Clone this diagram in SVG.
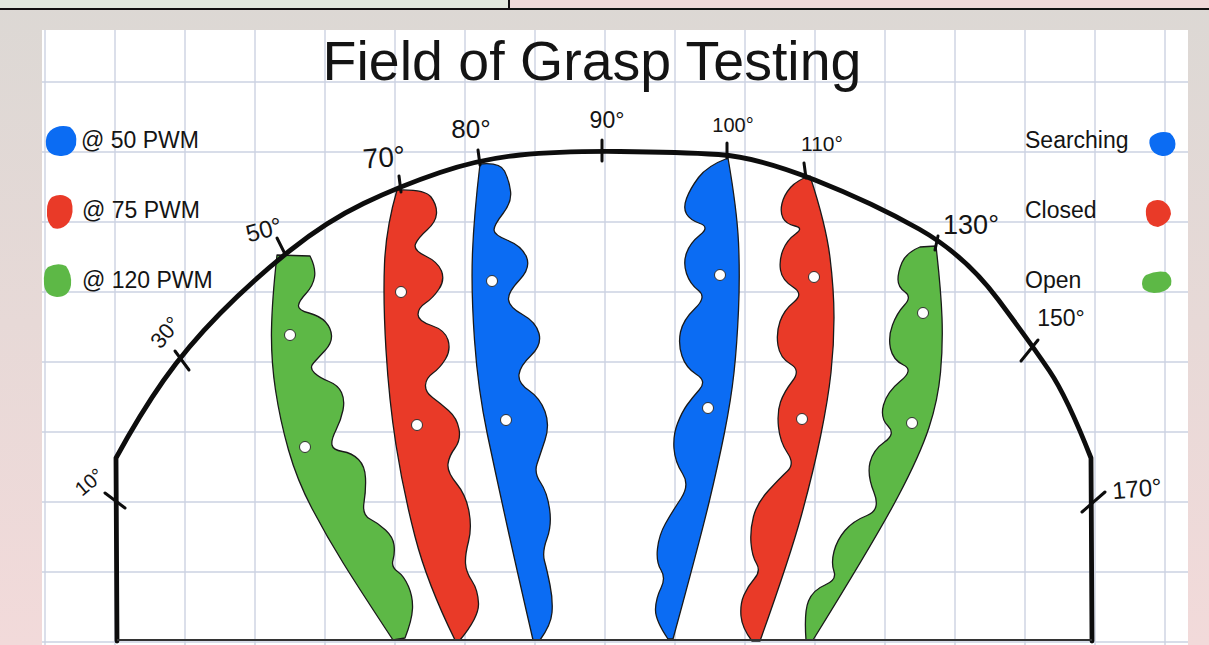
<svg xmlns="http://www.w3.org/2000/svg" width="1209" height="645" viewBox="0 0 1209 645">
<defs>
<linearGradient id="bg" x1="0" y1="0" x2="0" y2="1">
<stop offset="0" stop-color="#dcd8d4"/>
<stop offset="1" stop-color="#f2dada"/>
</linearGradient>
</defs>
<style>
.grid{stroke:#ccd2e2;stroke-width:1.4}
.band{stroke:#1a1a1a;stroke-width:1.3;stroke-linejoin:round}
.blue{fill:#0b6cf3}
.red{fill:#e93a28}
.green{fill:#5db846}
.dot{fill:#ffffff;stroke:#222;stroke-width:0.9}
.arc{fill:none;stroke:#0d0d0d;stroke-width:4.8;stroke-linecap:round;stroke-linejoin:round}
.tick{stroke:#0d0d0d;stroke-width:3;stroke-linecap:round}
.hand{font-family:"Liberation Sans",Arial,sans-serif;fill:#141414;text-anchor:middle}
.leg{font-family:"Liberation Sans",Arial,sans-serif;font-size:23px;fill:#141414}
.title{font-family:"Liberation Sans",Arial,sans-serif;font-size:55.5px;fill:#141414;text-anchor:middle}
</style>
<g id="background">
<rect x="0" y="0" width="1209" height="645" fill="url(#bg)"/>
<rect x="0" y="0" width="509" height="8" fill="#e1e9de"/>
<rect x="509" y="0" width="700" height="8" fill="#eed8d8"/>
<rect x="0" y="8" width="1209" height="2" fill="#111"/>
<rect x="508" y="0" width="2" height="9" fill="#111"/>
<rect x="42" y="30" width="1146" height="615" fill="#ffffff"/>
</g>
<g id="grid">
<path class="grid" d="M45,30V645M115,30V645M185,30V645M255,30V645M325,30V645M395,30V645M465,30V645M535,30V645M605,30V645M675,30V645M745,30V645M815,30V645M885,30V645M955,30V645M1025,30V645M1095,30V645M1165,30V645"/>
<path class="grid" d="M42,82H1188M42,152H1188M42,222H1188M42,292H1188M42,362H1188M42,432H1188M42,502H1188M42,572H1188M42,642H1188"/>
</g>
<g id="title">
<text class="title" x="592" y="80">Field of Grasp Testing</text>
</g>
<g id="legend-left">
<g id="leg-50pwm">
<path class="blue" d="M50,131 Q58,124 70,127 Q78,133 76,145 Q72,157 60,156 Q47,155 46,145 Q45,136 50,131 Z"/>
<text class="leg" x="81" y="148">@ 50 PWM</text>
</g>
<g id="leg-75pwm">
<path class="red" d="M52,197 Q63,192 71,200 Q75,212 69,222 Q62,231 53,228 Q46,222 47,210 Q47,201 52,197 Z"/>
<text class="leg" x="82" y="218">@ 75 PWM</text>
</g>
<g id="leg-120pwm">
<path class="green" d="M48,267 Q58,262 66,266 Q72,274 71,285 Q69,297 57,297 Q45,296 44,284 Q43,271 48,267 Z"/>
<text class="leg" x="82" y="288">@ 120 PWM</text>
</g>
</g>
<g id="legend-right">
<g id="leg-searching">
<text class="leg" x="1025" y="148">Searching</text>
<path class="blue" d="M1152,136 Q1160,130 1170,133 Q1177,139 1175,148 Q1171,157 1162,156 Q1152,154 1150,146 Q1148,139 1152,136 Z"/>
</g>
<g id="leg-closed">
<text class="leg" x="1025" y="218">Closed</text>
<path class="red" d="M1149,203 Q1155,198 1163,201 Q1171,206 1171,214 Q1169,224 1158,227 Q1147,226 1146,215 Q1145,207 1149,203 Z"/>
</g>
<g id="leg-open">
<text class="leg" x="1025" y="288">Open</text>
<path class="green" d="M1146,275 Q1156,270 1166,272 Q1173,277 1171,285 Q1166,293 1154,293 Q1142,292 1142,284 Q1142,278 1146,275 Z"/>
</g>
</g>
<g id="bands">
<g id="band-green-left">
<path class="band green" d="M310,256 Q316,268 314.5,277 Q313,286 306,293.5 Q299,301 298.5,305.5 Q298,310 309,313 Q320,316 325.5,322 Q331,328 331.5,335.5 Q332,343 325,350.5 Q318,358 313.5,363 Q309,368 314.5,373 Q320,378 329,381.5 Q338,385 341.5,392.5 Q345,400 343,410 Q341,420 336,430 Q331,440 332,445 Q333,450 342.5,451.5 Q352,453 358.5,459.5 Q365,466 365.5,478 Q366,490 364,502.5 Q362,515 370,519 Q378,523 385.5,530 Q393,537 394,545 Q395,553 393,560 Q391,567 397.5,571.5 Q404,576 408.5,586.5 Q413,597 412.5,608.5 Q412,620 405,638 L393,640 Q360,590 343.5,563.5 Q327,537 312,508.5 Q297,480 288.5,450 Q280,420 275.5,390 Q271,360 271.5,330 Q272,300 277,255 Z"/>
<circle class="dot" cx="290" cy="335" r="5.5"/>
<circle class="dot" cx="305" cy="447" r="5.5"/>
</g>
<g id="band-red-left">
<path class="band red" d="M397,190 Q425,189 431,197 Q437,205 436.5,213.5 Q436,222 427,230 Q418,238 415.5,244 Q413,250 425.5,256 Q438,262 441.5,271 Q445,280 439,289 Q433,298 425.5,303 Q418,308 418,314.5 Q418,321 431.5,325.5 Q445,330 448,340 Q451,350 445.5,359 Q440,368 433,373 Q426,378 425.5,385 Q425,392 432.5,397.5 Q440,403 448.5,410.5 Q457,418 459,429 Q461,440 455,448 Q449,456 448,464 Q447,472 456.5,483.5 Q466,495 469,511.5 Q472,528 468.5,541.5 Q465,555 465.5,563.5 Q466,572 472,581 Q478,590 478.5,603.5 Q479,617 460,640 L455,640 Q427,583 415,536.5 Q403,490 396,445 Q389,400 386,350 Q383,300 384.5,264 Q386,228 397,190 Z"/>
<circle class="dot" cx="401" cy="292" r="5.5"/>
<circle class="dot" cx="417" cy="425" r="5.5"/>
</g>
<g id="band-blue-left">
<path class="band blue" d="M480,164 Q500,162 504.5,171 Q509,180 510.5,191 Q512,202 503,213.5 Q494,225 494,230 Q494,235 508,240.5 Q522,246 526.5,257 Q531,268 519.5,280 Q508,292 508.5,299.5 Q509,307 522.5,314.5 Q536,322 539,333.5 Q542,345 531,355.5 Q520,366 519,374.5 Q518,383 529,390.5 Q540,398 545,411.5 Q550,425 545,440 Q540,455 537,464 Q534,473 540.5,482.5 Q547,492 549.5,508.5 Q552,525 547,538.5 Q542,552 544.5,561 Q547,570 550,585 Q553,600 552,612.5 Q551,625 540,640 L533,640 Q518,575 507.5,527.5 Q497,480 487.5,435 Q478,390 474.5,340 Q471,290 472.5,252.5 Q474,215 480,164 Z"/>
<circle class="dot" cx="492" cy="281" r="5.5"/>
<circle class="dot" cx="506" cy="420" r="5.5"/>
</g>
<g id="band-blue-right">
<path class="band blue" d="M728,158 Q737,210 738.5,242.5 Q740,275 738.5,310 Q737,345 734,372.5 Q731,400 724.5,432.5 Q718,465 709,502.5 Q700,540 673,639 L668,639 Q655,620 655.5,609 Q656,598 661,588 Q666,578 661,570 Q656,562 657.5,548.5 Q659,535 665.5,523.5 Q672,512 681,498.5 Q690,485 682.5,473.5 Q675,462 674,448.5 Q673,435 677.5,423.5 Q682,412 687,405 Q692,398 699.5,389.5 Q707,381 696.5,374.5 Q686,368 682,356 Q678,344 680.5,332 Q683,320 695,308.5 Q707,297 698.5,290.5 Q690,284 686.5,273.5 Q683,263 686.5,253 Q690,243 700,235 Q710,227 700,223.5 Q690,220 686.5,214 Q683,208 686.5,198.5 Q690,189 698.5,177.5 Q707,166 728,158 Z"/>
<circle class="dot" cx="720" cy="275" r="5.5"/>
<circle class="dot" cx="708" cy="408" r="5.5"/>
</g>
<g id="band-red-right">
<path class="band red" d="M810,176 Q826,225 830,257.5 Q834,290 834,317.5 Q834,345 831,372.5 Q828,400 820.5,436.5 Q813,473 801.5,515 Q790,557 760,641 L752,641 Q742,628 741,616 Q740,604 744,595 Q748,586 754.5,578.5 Q761,571 756.5,563.5 Q752,556 751,543 Q750,530 753.5,516.5 Q757,503 768.5,490.5 Q780,478 787.5,471 Q795,464 787.5,453 Q780,442 778.5,427 Q777,412 780.5,402 Q784,392 792.5,381 Q801,370 790.5,364 Q780,358 778,345.5 Q776,333 780,321.5 Q784,310 794,302 Q804,294 793,287 Q782,280 780.5,270 Q779,260 783,250 Q787,240 795.5,234 Q804,228 795,226 Q786,224 783,218 Q780,212 782,203.5 Q784,195 790.5,187.5 Q797,180 810,176 Z"/>
<circle class="dot" cx="814" cy="277" r="5.5"/>
<circle class="dot" cx="802" cy="419" r="5.5"/>
</g>
<g id="band-green-right">
<path class="band green" d="M936,246 Q941,290 942,317.5 Q943,345 940.5,372.5 Q938,400 929,427.5 Q920,455 897.5,497.5 Q875,540 813,640 L806,640 Q804,612 808.5,601 Q813,590 825,585 Q837,580 834,571.5 Q831,563 834,551.5 Q837,540 845,530.5 Q853,521 867,515.5 Q881,510 874,492.5 Q867,475 870,462.5 Q873,450 884.5,442 Q896,434 888,426 Q880,418 883.5,405 Q887,392 900.5,381 Q914,370 903.5,365 Q893,360 890.5,348.5 Q888,337 892.5,325 Q897,313 904.5,305 Q912,297 905,292 Q898,287 898,279.5 Q898,272 902,262.5 Q906,253 920,247 Z"/>
<circle class="dot" cx="923" cy="313" r="5.5"/>
<circle class="dot" cx="912" cy="423" r="5.5"/>
</g>
</g>
<g id="arc">
<path class="arc" d="M117,641 L116,458 Q140,414 163.5,380.5 Q187,347 220,313.5 Q253,280 290,250.5 Q327,221 363.5,203.5 Q400,186 440,172.5 Q480,159 520,155 Q560,151 620,151.5 Q680,152 718.5,154.5 Q757,157 815,180 Q873,203 919,229 Q965,255 998.5,300 Q1032,345 1049.5,371 Q1067,397 1091,458 L1092,641"/>
<path d="M117,640 H1092" stroke="#333" stroke-width="2"/>
<g id="ticks">
<line class="tick" x1="105" y1="493" x2="125" y2="508"/>
<line class="tick" x1="175" y1="351" x2="189" y2="370"/>
<line class="tick" x1="277" y1="238" x2="284" y2="252"/>
<line class="tick" x1="399" y1="176" x2="401" y2="192"/>
<line class="tick" x1="478" y1="150" x2="480" y2="165"/>
<line class="tick" x1="602" y1="140" x2="602" y2="161"/>
<line class="tick" x1="727" y1="143" x2="727" y2="158"/>
<line class="tick" x1="804" y1="163" x2="806" y2="178"/>
<line class="tick" x1="938" y1="236" x2="935" y2="250"/>
<line class="tick" x1="1021" y1="361" x2="1038" y2="340"/>
<line class="tick" x1="1082" y1="512" x2="1105" y2="492"/>
</g>
</g>
<g id="angle-labels">
<text class="hand" font-size="20" transform="translate(89,482) rotate(-40) translate(0,7)">10°</text>
<text class="hand" font-size="22" transform="translate(165,332) rotate(-50) translate(0,8)">30°</text>
<text class="hand" font-size="24" transform="translate(264,230) rotate(-15) translate(0,8)">50°</text>
<text class="hand" font-size="28" transform="translate(384,157) rotate(-5) translate(0,10)">70°</text>
<text class="hand" font-size="26" transform="translate(471,129) translate(0,9)">80°</text>
<text class="hand" font-size="23" transform="translate(607,120) translate(0,8)">90°</text>
<text class="hand" font-size="20" transform="translate(733,125) translate(0,7)">100°</text>
<text class="hand" font-size="21" transform="translate(822,143) translate(0,8)">110°</text>
<text class="hand" font-size="27" transform="translate(971,225) translate(0,9)">130°</text>
<text class="hand" font-size="23" transform="translate(1061,318) translate(0,8)">150°</text>
<text class="hand" font-size="24" transform="translate(1137,489) rotate(-5) translate(0,8)">170°</text>
</g>
</svg>
